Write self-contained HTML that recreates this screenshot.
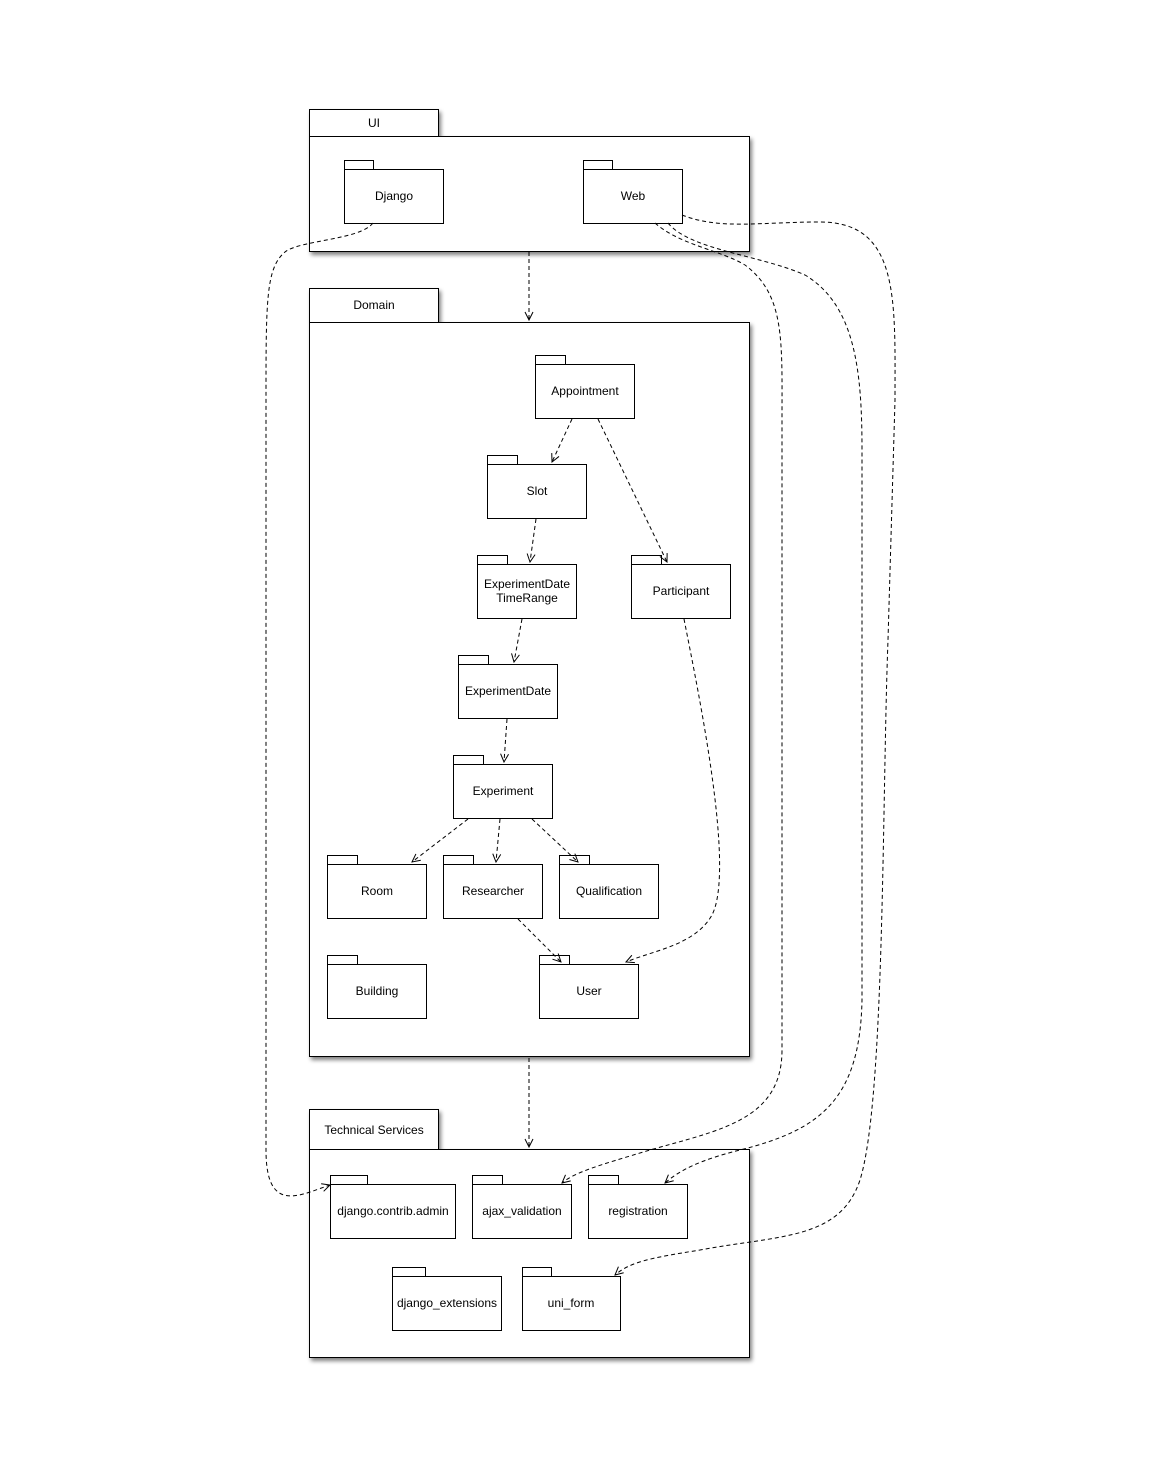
<!DOCTYPE html>
<html><head><meta charset="utf-8"><style>
html,body{margin:0;padding:0;background:#fff}
svg{display:block}
text{font-family:"Liberation Sans",sans-serif;font-size:12px;fill:#000;text-anchor:middle}
</style></head><body>
<svg width="1152" height="1466" viewBox="0 0 1152 1466" xmlns="http://www.w3.org/2000/svg">
<defs>
<filter id="sh" x="-5%" y="-5%" width="115%" height="115%"><feGaussianBlur in="SourceAlpha" stdDeviation="2"/><feOffset dx="2" dy="3"/><feComponentTransfer><feFuncA type="linear" slope="0.5"/></feComponentTransfer><feMerge><feMergeNode/><feMergeNode in="SourceGraphic"/></feMerge></filter>
<marker id="a" markerWidth="10" markerHeight="10" refX="9" refY="5" orient="auto" markerUnits="userSpaceOnUse"><path d="M1,1 L9,5 L1,9" fill="none" stroke="#000" stroke-width="1"/></marker>
</defs>
<g fill="#fff" stroke="#000" stroke-width="1" filter="url(#sh)">
<rect x="309.5" y="109.5" width="129" height="27"/>
<rect x="309.5" y="136.5" width="440" height="115"/>
<rect x="309.5" y="288.5" width="129" height="34"/>
<rect x="309.5" y="322.5" width="440" height="734"/>
<rect x="309.5" y="1109.5" width="129" height="40"/>
<rect x="309.5" y="1149.5" width="440" height="208"/>
</g>
<text x="374" y="127">UI</text>
<text x="374" y="309">Domain</text>
<text x="374" y="1134">Technical Services</text>
<g fill="#fff" stroke="#000" stroke-width="1">
<rect x="344.5" y="160.5" width="29" height="9"/><rect x="344.5" y="169.5" width="99" height="54"/>
<rect x="583.5" y="160.5" width="29" height="9"/><rect x="583.5" y="169.5" width="99" height="54"/>
<rect x="535.5" y="355.5" width="30" height="9"/><rect x="535.5" y="364.5" width="99" height="54"/>
<rect x="487.5" y="455.5" width="30" height="9"/><rect x="487.5" y="464.5" width="99" height="54"/>
<rect x="477.5" y="555.5" width="30" height="9"/><rect x="477.5" y="564.5" width="99" height="54"/>
<rect x="631.5" y="555.5" width="30" height="9"/><rect x="631.5" y="564.5" width="99" height="54"/>
<rect x="458.5" y="655.5" width="30" height="9"/><rect x="458.5" y="664.5" width="99" height="54"/>
<rect x="453.5" y="755.5" width="30" height="9"/><rect x="453.5" y="764.5" width="99" height="54"/>
<rect x="327.5" y="855.5" width="30" height="9"/><rect x="327.5" y="864.5" width="99" height="54"/>
<rect x="443.5" y="855.5" width="30" height="9"/><rect x="443.5" y="864.5" width="99" height="54"/>
<rect x="559.5" y="855.5" width="30" height="9"/><rect x="559.5" y="864.5" width="99" height="54"/>
<rect x="327.5" y="955.5" width="30" height="9"/><rect x="327.5" y="964.5" width="99" height="54"/>
<rect x="539.5" y="955.5" width="30" height="9"/><rect x="539.5" y="964.5" width="99" height="54"/>
<rect x="330.5" y="1175.5" width="37" height="9"/><rect x="330.5" y="1184.5" width="125" height="54"/>
<rect x="472.5" y="1175.5" width="30" height="9"/><rect x="472.5" y="1184.5" width="99" height="54"/>
<rect x="588.5" y="1175.5" width="30" height="9"/><rect x="588.5" y="1184.5" width="99" height="54"/>
<rect x="392.5" y="1267.5" width="33" height="9"/><rect x="392.5" y="1276.5" width="109" height="54"/>
<rect x="522.5" y="1267.5" width="29" height="9"/><rect x="522.5" y="1276.5" width="98" height="54"/>
</g>
<text x="394" y="200">Django</text>
<text x="633" y="200">Web</text>
<text x="585" y="395">Appointment</text>
<text x="537" y="495">Slot</text>
<text x="527" y="588">ExperimentDate</text>
<text x="527" y="602">TimeRange</text>
<text x="681" y="595">Participant</text>
<text x="508" y="695">ExperimentDate</text>
<text x="503" y="795">Experiment</text>
<text x="377" y="895">Room</text>
<text x="493" y="895">Researcher</text>
<text x="609" y="895">Qualification</text>
<text x="377" y="995">Building</text>
<text x="589" y="995">User</text>
<text x="393" y="1215">django.contrib.admin</text>
<text x="522" y="1215">ajax_validation</text>
<text x="638" y="1215">registration</text>
<text x="447" y="1307">django_extensions</text>
<text x="571" y="1307">uni_form</text>
<g fill="none" stroke="#000" stroke-width="1" stroke-dasharray="4,3" marker-end="url(#a)">
<path d="M529,252 L529,320"/>
<path d="M529,1058 L529,1147"/>
<path d="M572,419 L552,462"/>
<path d="M598,419 L667,562"/>
<path d="M536,519 L530,562"/>
<path d="M522,619 L514,662"/>
<path d="M507,719 L504,762"/>
<path d="M468,819 L412,862"/>
<path d="M500,819 L496,862"/>
<path d="M532,819 L578,862"/>
<path d="M518,919 L561,962"/>
<path d="M684,619 C700,700 735,870 712,915 C695,945 655,950 626,962"/>
<path d="M373,223 C360,240 300,240 285,252 C266,268 266,300 266,400 L266,1150 C266,1215 300,1195 330,1185"/>
<path d="M682,215 C720,230 760,222 820,222 C900,222 895,300 895,400 L888,640 C882,800 885,1100 860,1180 C840,1240 780,1235 700,1250 C650,1258 630,1262 615,1275"/>
<path d="M655,223 C680,245 720,250 745,265 C785,295 782,340 782,420 L782,1050 C782,1120 720,1130 650,1150 C600,1165 575,1172 562,1183"/>
<path d="M668,223 C690,250 760,255 805,275 C855,305 862,370 862,450 L862,1000 C860,1100 820,1130 740,1150 C700,1160 680,1170 665,1183"/>
</g>
</svg>
</body></html>
